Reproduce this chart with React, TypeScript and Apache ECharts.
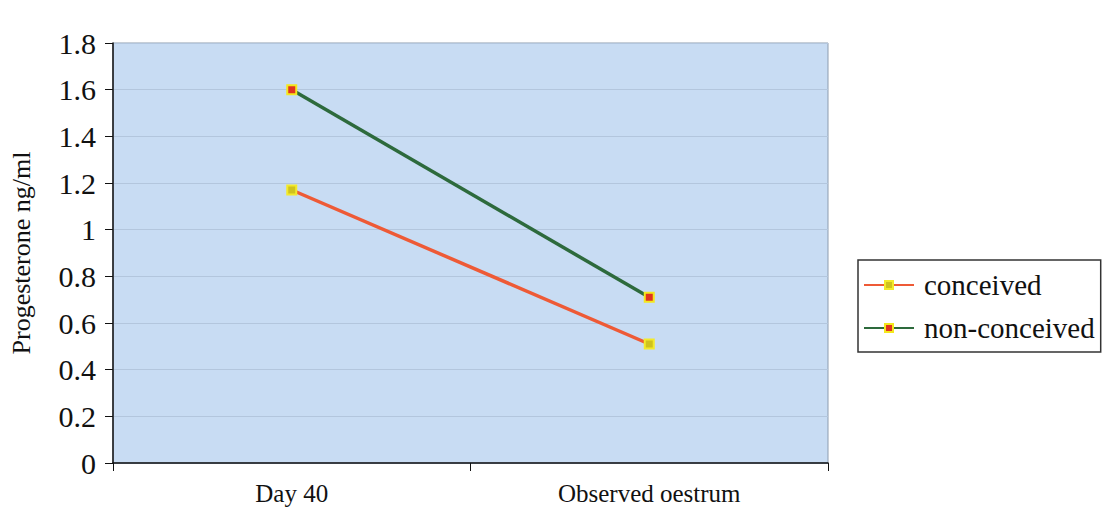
import React, { useEffect, useRef } from "react";
import * as echarts from "echarts";

const categories = ["Day 40", "Observed oestrum"];
const seriesNames = ["conceived", "non-conceived"];
const conceived = [1.17, 0.51];
const nonConceived = [1.6, 0.71];
const yTicks = { min: 0, max: 1.8, interval: 0.2 };

const FONT = "'Liberation Serif', 'Times New Roman', serif";

export default function App() {
  const ref = useRef<HTMLDivElement>(null);
  useEffect(() => {
    if (!ref.current) return;
    const chart = echarts.init(ref.current, undefined, { renderer: "svg" });
    chart.setOption({
      animation: false,
      backgroundColor: "#ffffff",
      grid: {
        left: 113,
        right: 277,
        top: 43,
        bottom: 52,
        outerBoundsMode: "none",
        containLabel: false,
        show: true,
        backgroundColor: "#c8dcf3",
        borderColor: "#8d9cae",
        borderWidth: 1,
      },
      legend: {
        orient: "vertical",
        left: 858,
        top: 260,
        padding: [10, 6, 9, 5],
        itemGap: 13,
        itemWidth: 50,
        itemHeight: 10,
        borderColor: "#333333",
        borderWidth: 1.5,
        backgroundColor: "#ffffff",
        data: seriesNames,
        textStyle: {
          fontFamily: FONT,
          fontSize: 29,
          color: "#111111",
          lineHeight: 30,
          padding: [0, 0, 0, 5],
        },
      },
      xAxis: {
        type: "category",
        data: categories,
        boundaryGap: true,
        axisLine: { lineStyle: { color: "#111111", width: 1.5 } },
        axisTick: { show: true, length: 8, lineStyle: { color: "#111111" } },
        axisLabel: {
          fontFamily: FONT,
          fontSize: 25,
          color: "#111111",
          margin: 18,
        },
        splitLine: { show: false },
      },
      yAxis: {
        type: "value",
        min: yTicks.min,
        max: yTicks.max,
        interval: yTicks.interval,
        name: "Progesterone ng/ml",
        nameLocation: "middle",
        nameGap: 79,
        nameTextStyle: { fontFamily: FONT, fontSize: 26, color: "#111111" },
        axisLine: { show: true, lineStyle: { color: "#111111", width: 1.5 } },
        axisTick: { show: true, length: 8, lineStyle: { color: "#111111" } },
        axisLabel: {
          fontFamily: FONT,
          fontSize: 30,
          color: "#111111",
          margin: 17,
          formatter: (v: number) => String(Math.round(v * 10) / 10),
        },
        splitLine: { show: true, lineStyle: { color: "#b3c6dd", width: 1 } },
      },
      series: [
        {
          name: seriesNames[0],
          type: "line",
          data: conceived,
          symbol: "rect",
          symbolSize: 9,
          lineStyle: { color: "#ee5a36", width: 3.5 },
          itemStyle: { color: "#cfc21e", borderColor: "#f3ea2a", borderWidth: 2 },
          z: 3,
        },
        {
          name: seriesNames[1],
          type: "line",
          data: nonConceived,
          symbol: "rect",
          symbolSize: 9,
          lineStyle: { color: "#2d6a3c", width: 3.5 },
          itemStyle: { color: "#e0331f", borderColor: "#f4e81c", borderWidth: 2 },
          z: 3,
        },
      ],
    });
    return () => chart.dispose();
  }, []);
  return (
    <div
      ref={ref}
      style={{ position: "fixed", left: 0, top: 0, width: 1105, height: 515 }}
    />
  );
}
